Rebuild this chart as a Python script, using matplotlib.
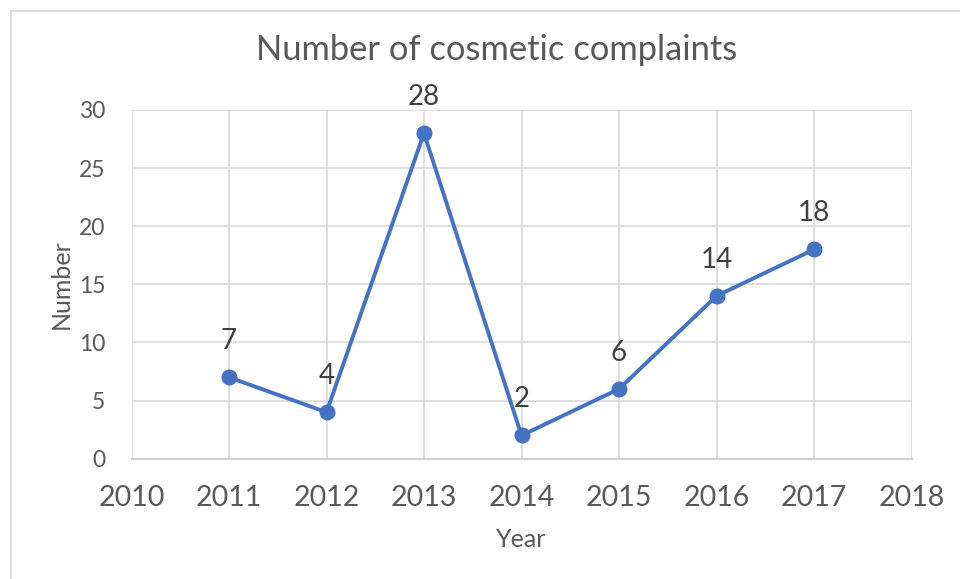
import matplotlib
matplotlib.use('Agg')
from matplotlib import pyplot as plt
from matplotlib.patches import Rectangle

years = [2011, 2012, 2013, 2014, 2015, 2016, 2017]
complaints = [7, 4, 28, 2, 6, 14, 18]
x_ticks = [2010, 2011, 2012, 2013, 2014, 2015, 2016, 2017, 2018]
y_ticks = [0, 5, 10, 15, 20, 25, 30]

plt.rcParams['font.family'] = ['Lato', 'DejaVu Sans']

fig = plt.figure(figsize=(9.6, 5.79), dpi=100)
# chart border, cropped on the right and bottom
fig.patches.append(Rectangle((11/960, -0.1), 1.2, 1 - 11/579 + 0.1,
                             transform=fig.transFigure, fill=False,
                             edgecolor='#d9d9d9', linewidth=1.2))

ax = fig.add_axes([131.5/960, 1 - 458.7/579, 780/960, 348.7/579])
ax.plot(years, complaints, color='#4472c4', linewidth=2.8,
        marker='o', markersize=10.5, zorder=3, clip_on=False)

for x, y in zip(years, complaints):
    ax.annotate(str(y), (x, y), xytext=(0, 36), textcoords='offset pixels',
                ha='center', va='center', fontsize=20, color='#404040')

ax.set_xlim(2010, 2018)
ax.set_ylim(0, 30)
ax.set_xticks(x_ticks)
ax.set_yticks(y_ticks)
ax.tick_params(axis='x', labelsize=20.5, labelcolor='#595959', length=0, pad=19)
ax.tick_params(axis='y', labelsize=16.5, labelcolor='#595959', length=0, pad=19)
ax.grid(True, color='#d9d9d9', linewidth=1.2)
ax.set_axisbelow(True)
for s in ['top', 'right', 'left']:
    ax.spines[s].set_visible(False)
ax.spines['bottom'].set_color('#d0d0d0')
ax.spines['bottom'].set_linewidth(1.5)

ax.set_xlabel('Year', fontsize=18, color='#595959', labelpad=12)
ax.set_ylabel('Number', fontsize=18, color='#595959', labelpad=4)
fig.text(497/960, 1 - 50/579, 'Number of cosmetic complaints',
         ha='center', va='center', fontsize=24.8, color='#595959')

fig.savefig('out.png', dpi=100)
